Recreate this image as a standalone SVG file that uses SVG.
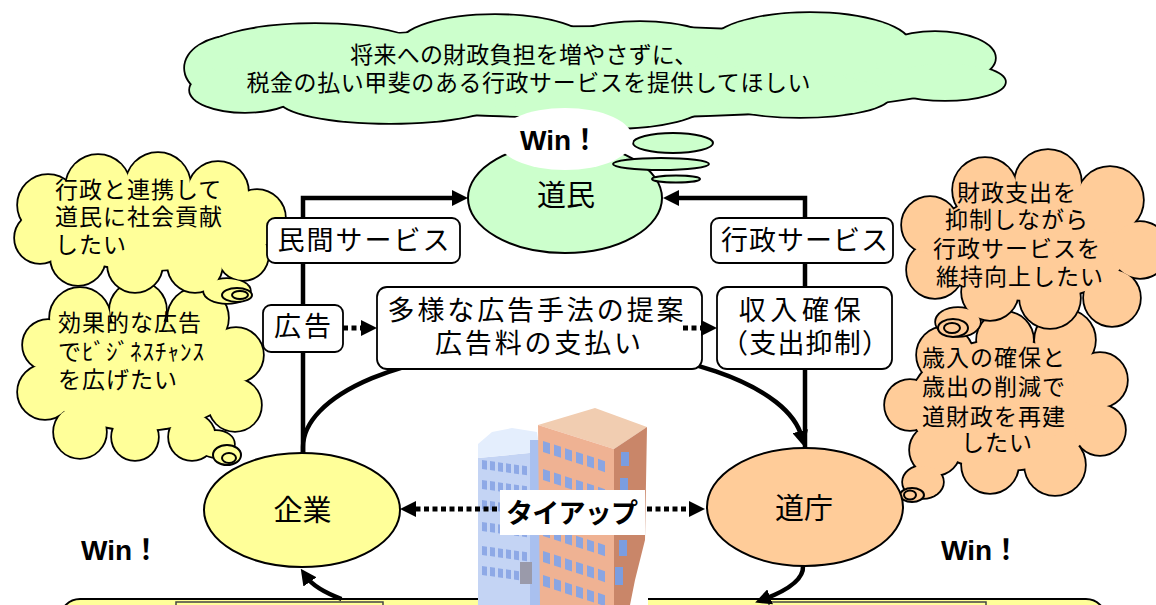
<svg xmlns="http://www.w3.org/2000/svg" width="1156" height="605" viewBox="0 0 1156 605">
<style>
  .jp { font-family: "Noto Sans CJK JP", "Noto Sans", sans-serif; fill: #000; }
  .t23 { font-size: 23px; letter-spacing: 1px; }
  .t27 { font-size: 27px; }
  .t29 { font-size: 29px; }
  .bold { font-weight: bold; }
  .win { font-family: "Liberation Sans", "Noto Sans CJK JP", sans-serif; font-size: 28px; font-weight: bold; fill: #000; }
  .cs { stroke: #000; stroke-width: 3.5; }
  .cf { stroke: none; }
  .green { fill: #ccffcc; }
  .yellow { fill: #ffff99; }
  .peach { fill: #ffcc99; }
  .node { stroke: #000; stroke-width: 2; }
  .box { fill: #fff; stroke: #000; stroke-width: 1.8; }
  .ring { stroke: #000; stroke-width: 2; }
  .wire { fill: none; stroke: #000; stroke-width: 4.5; marker-end: url(#ah); }
  .dots { fill: none; stroke: #000; stroke-width: 5; stroke-dasharray: 5 3.5; marker-end: url(#ah); }
</style>
<defs>
  <marker id="ah" markerUnits="userSpaceOnUse" markerWidth="16" markerHeight="16" refX="6" refY="8" orient="auto">
    <path d="M0,0 L16,8 L0,16 Z" fill="#000"/>
  </marker>
  <!-- cloud outlines: each is a union of ellipses, stroked once then filled over -->
  <g id="shapeTop">
    <ellipse cx="600" cy="72" rx="380" ry="45"/>
    <ellipse cx="235" cy="68" rx="50" ry="32"/>
    <ellipse cx="315" cy="55" rx="115" ry="31"/>
    <ellipse cx="495" cy="45" rx="95" ry="30"/>
    <ellipse cx="640" cy="48" rx="80" ry="26"/>
    <ellipse cx="810" cy="45" rx="100" ry="32"/>
    <ellipse cx="935" cy="58" rx="60" ry="26"/>
    <ellipse cx="945" cy="82" rx="60" ry="18"/>
    <ellipse cx="800" cy="96" rx="90" ry="21"/>
    <ellipse cx="610" cy="104" rx="95" ry="24"/>
    <ellipse cx="390" cy="100" rx="110" ry="23"/>
    <ellipse cx="245" cy="90" rx="55" ry="22"/>
  </g>
  <g id="shapeC1">
    <ellipse cx="150" cy="225" rx="105" ry="45"/>
    <circle cx="48" cy="205" r="30"/>
    <circle cx="98" cy="187" r="32"/>
    <circle cx="158" cy="185" r="32"/>
    <circle cx="218" cy="192" r="30"/>
    <circle cx="257" cy="218" r="28"/>
    <circle cx="243" cy="255" r="25"/>
    <circle cx="195" cy="265" r="27"/>
    <circle cx="135" cy="265" r="27"/>
    <circle cx="78" cy="258" r="27"/>
    <circle cx="40" cy="238" r="25"/>
    <ellipse cx="227" cy="291" rx="23" ry="12"/>
  </g>
  <g id="shapeC2">
    <ellipse cx="140" cy="375" rx="100" ry="55"/>
    <circle cx="80" cy="318" r="30"/>
    <circle cx="138" cy="310" r="28"/>
    <circle cx="198" cy="318" r="30"/>
    <circle cx="236" cy="355" r="27"/>
    <circle cx="235" cy="405" r="26"/>
    <circle cx="192" cy="437" r="23"/>
    <circle cx="135" cy="437" r="23"/>
    <circle cx="80" cy="432" r="26"/>
    <circle cx="45" cy="392" r="27"/>
    <circle cx="48" cy="345" r="25"/>
    <ellipse cx="216" cy="444" rx="18" ry="13"/>
  </g>
  <g id="shapeC3">
    <ellipse cx="1030" cy="245" rx="100" ry="55"/>
    <circle cx="985" cy="190" r="32"/>
    <circle cx="1048" cy="183" r="33"/>
    <circle cx="1110" cy="200" r="33"/>
    <circle cx="1140" cy="250" r="28"/>
    <circle cx="1112" cy="298" r="28"/>
    <circle cx="1050" cy="298" r="30"/>
    <circle cx="990" cy="292" r="28"/>
    <circle cx="935" cy="270" r="28"/>
    <circle cx="930" cy="225" r="28"/>
    <ellipse cx="958" cy="322" rx="22" ry="14"/>
  </g>
  <g id="shapeC4">
    <ellipse cx="1005" cy="405" rx="95" ry="65"/>
    <circle cx="945" cy="355" r="28"/>
    <circle cx="1005" cy="340" r="28"/>
    <circle cx="1065" cy="340" r="30"/>
    <circle cx="1100" cy="380" r="27"/>
    <circle cx="1100" cy="430" r="25"/>
    <circle cx="1055" cy="465" r="30"/>
    <circle cx="990" cy="465" r="28"/>
    <circle cx="935" cy="450" r="25"/>
    <circle cx="910" cy="405" r="25"/>
    <ellipse cx="923" cy="482" rx="20" ry="16"/>
  </g>
</defs>

<!-- residents' wish -->
<g id="cloud-top">
  <use href="#shapeTop" class="cs green"/>
  <use href="#shapeTop" class="cf green"/>
  <text class="jp t23" text-anchor="middle">
    <tspan x="527" y="63" textLength="348">将来への財政負担を増やさずに、</tspan>
    <tspan x="529" y="91" textLength="565">税金の払い甲斐のある行政サービスを提供してほしい</tspan>
  </text>
</g>

<!-- company wishes -->
<g id="cloud-company-ad">
  <use href="#shapeC2" class="cs yellow"/>
  <use href="#shapeC2" class="cf yellow"/>
  <ellipse class="ring yellow" cx="227" cy="455" rx="14" ry="10"/>
  <ellipse class="ring yellow" cx="229" cy="458" rx="7" ry="5"/>
  <text class="jp t23">
    <tspan x="58" y="331">効果的な広告</tspan>
    <tspan x="58" y="360">でﾋﾞｼﾞﾈｽﾁｬﾝｽ</tspan>
    <tspan x="58" y="388">を広げたい</tspan>
  </text>
</g>
<g id="cloud-company-social">
  <use href="#shapeC1" class="cs yellow"/>
  <use href="#shapeC1" class="cf yellow"/>
  <ellipse class="ring yellow" cx="237" cy="295" rx="15" ry="7"/>
  <ellipse class="ring yellow" cx="240" cy="295" rx="8" ry="4"/>
  <text class="jp t23">
    <tspan x="55" y="198">行政と連携して</tspan>
    <tspan x="55" y="225">道民に社会貢献</tspan>
    <tspan x="55" y="253">したい</tspan>
  </text>
</g>

<!-- prefecture wishes -->
<g id="cloud-pref-rebuild">
  <use href="#shapeC4" class="cs peach"/>
  <use href="#shapeC4" class="cf peach"/>
  <ellipse class="ring peach" cx="912" cy="495" rx="12" ry="7"/>
  <ellipse class="ring peach" cx="910" cy="495" rx="6" ry="4.5"/>
  <text class="jp t23" text-anchor="middle">
    <tspan x="997" y="366">歳入の確保と</tspan>
    <tspan x="997" y="395">歳出の削減で</tspan>
    <tspan x="997" y="425">道財政を再建</tspan>
    <tspan x="997" y="451">したい</tspan>
  </text>
</g>
<g id="cloud-pref-service">
  <use href="#shapeC3" class="cs peach"/>
  <use href="#shapeC3" class="cf peach"/>
  <ellipse class="ring peach" cx="953" cy="328" rx="15" ry="9"/>
  <ellipse class="ring peach" cx="952" cy="328" rx="8" ry="5"/>
  <text class="jp t23" text-anchor="middle">
    <tspan x="1020" y="201">財政支出を</tspan>
    <tspan x="1020" y="228">抑制しながら</tspan>
    <tspan x="1020" y="257">行政サービスを</tspan>
    <tspan x="1020" y="285">維持向上したい</tspan>
  </text>
</g>

<!-- residents node with thought tail and Win badge -->
<g id="node-residents">
  <ellipse class="node green" cx="565" cy="198" rx="97" ry="55"/>
  <ellipse class="ring green" cx="673" cy="143" rx="40" ry="10"/>
  <ellipse class="ring green" cx="661" cy="164" rx="48" ry="6"/>
  <ellipse class="ring green" cx="676" cy="179" rx="24" ry="3.5"/>
  <ellipse cx="565" cy="139" rx="68" ry="31" fill="#fff"/>
  <text class="win" x="520" y="150">Win！</text>
  <text class="jp t29" x="566" y="206" text-anchor="middle">道民</text>
</g>

<!-- bottom panel -->
<g id="panel-bottom">
  <rect x="60" y="599" width="1046" height="40" rx="20" fill="#ffff99" stroke="#000" stroke-width="2"/>
  <rect x="176" y="602" width="207" height="20" fill="#ffff99" stroke="#444" stroke-width="1.5"/>
  <rect x="769" y="602" width="217" height="20" fill="#ffff99" stroke="#444" stroke-width="1.5"/>
</g>

<!-- office buildings -->
<g id="buildings">
  <rect x="478" y="405" width="170" height="200" fill="#fff"/>
  <path d="M478,458 L478,605 L540,605 L540,452 Z" fill="#c4d4f4"/>
  <path d="M478,458 L478,444 L492,432 L512,428 L537,432 L540,452 Z" fill="#e4eefd"/>
  <rect x="530" y="440" width="10" height="165" fill="#a9c0ef"/>
  <g transform="translate(482,460) skewY(8)" fill="#8ea9e6">
    <g id="brow">
      <rect x="0" y="0" width="5" height="9"/><rect x="8" y="0" width="5" height="9"/>
      <rect x="16" y="0" width="5" height="9"/><rect x="24" y="0" width="5" height="9"/>
      <rect x="32" y="0" width="5" height="9"/><rect x="40" y="0" width="5" height="9"/>
    </g>
    <use href="#brow" y="20"/><use href="#brow" y="40"/><use href="#brow" y="62"/>
    <use href="#brow" y="86"/><use href="#brow" y="106"/>
  </g>
  <rect x="520" y="562" width="12" height="22" fill="#9a9aaa"/>
  <polygon points="538,425 595,408 647,427 614,449" fill="#f1cdb1"/>
  <polygon points="538,425 614,449 614,605 540,605" fill="#efb293"/>
  <polygon points="614,449 647,427 645,540 635,580 630,605 614,605" fill="#c98669"/>
  <g transform="translate(543,441) skewY(18)" fill="#8aa5e2">
    <g id="orow">
      <rect x="0" y="0" width="7" height="11"/><rect x="11" y="0" width="7" height="11"/>
      <rect x="22" y="0" width="7" height="11"/><rect x="33" y="0" width="7" height="11"/>
      <rect x="44" y="0" width="7" height="11"/><rect x="55" y="0" width="7" height="11"/>
    </g>
    <use href="#orow" y="28"/><use href="#orow" y="56"/><use href="#orow" y="84"/>
    <use href="#orow" y="110"/><use href="#orow" y="134"/>
  </g>
  <g fill="#7b9de0">
    <rect x="621" y="452" width="8" height="14"/>
    <rect x="620" y="478" width="8" height="15"/>
    <rect x="619" y="540" width="8" height="16"/>
    <rect x="615" y="567" width="8" height="18"/>
  </g>
</g>

<!-- service, money and revenue flows (solid lines run behind the labels) -->
<g id="connectors">
  <path class="wire" d="M303,453 V198 H458"/>
  <path class="wire" d="M805,448 V198 H673"/>
  <path class="wire" d="M303,453 L303,447 A250,100 0 0 1 801.7,437"/>
  <path class="wire" d="M803,566 A250,60 0 0 1 764.5,599"/>
  <path class="wire" d="M341.5,599 A250,60 0 0 1 306.5,577"/>
</g>

<g id="label-private-service">
  <rect class="box" x="267" y="218" width="193" height="45" rx="8"/>
  <text class="jp t27" x="363.5" y="250" text-anchor="middle" textLength="172">民間サービス</text>
</g>
<g id="label-public-service">
  <rect class="box" x="711" y="218" width="182" height="45" rx="8"/>
  <text class="jp t27" x="804.5" y="250" text-anchor="middle" textLength="167">行政サービス</text>
</g>
<g id="label-ad">
  <rect class="box" x="263" y="305" width="80" height="47" rx="8"/>
  <text class="jp t27" x="302.5" y="336" text-anchor="middle" textLength="57">広告</text>
</g>
<g id="label-proposal">
  <rect class="box" x="377" y="287" width="325" height="82" rx="10"/>
  <text class="jp t27" text-anchor="middle">
    <tspan x="540" y="320" textLength="296">多様な広告手法の提案</tspan>
    <tspan x="538" y="353" textLength="206">広告料の支払い</tspan>
  </text>
</g>
<g id="label-revenue">
  <rect class="box" x="717" y="287" width="175" height="82" rx="10"/>
  <text class="jp t27" text-anchor="middle">
    <tspan x="805" y="320" textLength="122">収入確保</tspan>
    <tspan x="805" y="353" textLength="168">（支出抑制）</tspan>
  </text>
</g>

<g id="node-company">
  <ellipse class="node yellow" cx="302" cy="510" rx="98" ry="57"/>
  <text class="jp t29" x="302.5" y="521" text-anchor="middle">企業</text>
</g>
<g id="node-prefecture">
  <ellipse class="node peach" cx="805" cy="507" rx="98" ry="59"/>
  <text class="jp t29" x="804" y="519" text-anchor="middle">道庁</text>
</g>
<g id="label-tieup">
  <rect x="500" y="490" width="145" height="45" fill="#fff"/>
  <text class="jp t27 bold" x="572" y="523" text-anchor="middle" textLength="132">タイアップ</text>
</g>

<!-- dotted flows sit on top of the labels and buildings -->
<g id="connectors-dotted">
  <path class="dots" d="M343,328 H367"/>
  <path class="dots" d="M683,328 H707"/>
  <path class="dots" d="M497,509 H410"/>
  <path class="dots" d="M647,509 H695"/>
</g>

<text class="win" x="81" y="560">Win！</text>
<text class="win" x="941" y="560">Win！</text>
</svg>
